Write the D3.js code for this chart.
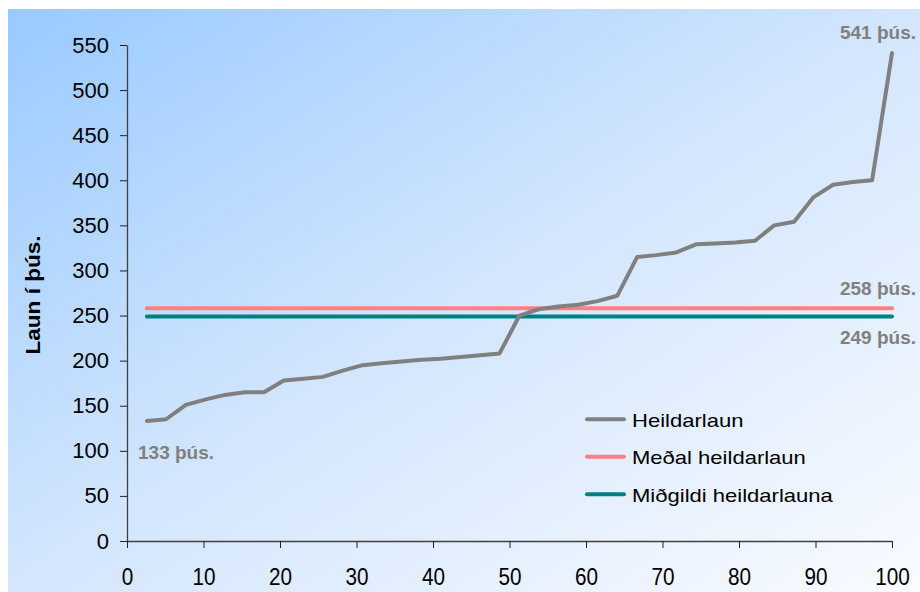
<!DOCTYPE html>
<html><head><meta charset="utf-8">
<script src="https://cdn.jsdelivr.net/npm/d3@7"></script>
<style>body{margin:0;background:#fff}svg{display:block;font-family:"Liberation Sans",Arial,sans-serif}</style>
</head><body><svg id="c" width="920" height="592"></svg>
<script>
const xValues = [2.6,5.1,7.7,10.3,12.8,15.4,17.9,20.5,23.1,25.6,28.2,30.8,33.3,35.9,38.5,41.0,43.6,46.2,48.7,51.3,53.8,56.4,59.0,61.5,64.1,66.7,69.2,71.8,74.4,76.9,79.5,82.1,84.6,87.2,89.7,92.3,94.9,97.4,100.0];
const heildarlaun = [133,135,151,157,162,165,165,178,180,182,189,195,197,199,201,202,204,206,208,250,257,260,262,266,272,315,317,320,329,330,331,333,350,354,381,395,398,400,541];
const medal = 258;
const midgildi = 249;
const yTicks = [0,50,100,150,200,250,300,350,400,450,500,550];
const xTicks = [0,10,20,30,40,50,60,70,80,90,100];
const seriesNames = ["Heildarlaun","Meðal heildarlaun","Miðgildi heildarlauna"];
const seriesColors = ["#808080","#ff8080","#008080"];
const annotationTexts = ["541 þús.","258 þús.","249 þús.","133 þús."];

const svg = d3.select("#c");
const defs = svg.append("defs");
const g = defs.append("linearGradient").attr("id","bg").attr("x1","0").attr("y1","0").attr("x2","1").attr("y2","1");
g.append("stop").attr("offset","0").attr("stop-color","#99caff");
g.append("stop").attr("offset","0.5").attr("stop-color","#d3e6fd");
g.append("stop").attr("offset","1").attr("stop-color","#f9fbff");
svg.append("rect").attr("x",8).attr("y",9).attr("width",912).attr("height",583).attr("fill","url(#bg)");

const x = d3.scaleLinear().domain([0,100]).range([127,892]);
const y = d3.scaleLinear().domain([0,550]).range([541,45]);

// axes
const yAxis = svg.append("g").attr("transform","translate(127,0)")
  .call(d3.axisLeft(y).tickValues(yTicks).tickSize(7).tickPadding(11).tickSizeOuter(0));
const xAxis = svg.append("g").attr("transform","translate(0,541)")
  .call(d3.axisBottom(x).tickValues(xTicks).tickSize(7).tickPadding(13).tickSizeOuter(0));
[yAxis,xAxis].forEach(a=>{
  a.select(".domain").attr("stroke","#404040").attr("stroke-width",1.3);
  a.selectAll(".tick line").attr("stroke","#202020");
  a.selectAll("text").attr("fill","#000").attr("font-family","Liberation Sans, Arial, sans-serif");
});
yAxis.selectAll("text").attr("font-size",22);
xAxis.selectAll("text").attr("font-size",23).attr("y",44).attr("dy",0).attr("transform","scale(0.9,1)");
xAxis.select(".domain").attr("d","M127,0.5H892");

svg.append("text").attr("transform","translate(39.5,295) rotate(-90) scale(1.13,1)")
  .attr("text-anchor","middle").attr("font-size",20).attr("font-weight","bold").text("Laun í þús.");

// reference lines
const x0 = xValues[0], x1 = xValues[xValues.length-1];
svg.append("line").attr("x1",x(x0)).attr("x2",x(x1)).attr("y1",y(medal)).attr("y2",y(medal))
  .attr("stroke",seriesColors[1]).attr("stroke-width",4).attr("stroke-linecap","round");
svg.append("line").attr("x1",x(x0)).attr("x2",x(x1)).attr("y1",y(midgildi)).attr("y2",y(midgildi))
  .attr("stroke",seriesColors[2]).attr("stroke-width",4).attr("stroke-linecap","round");

// main line
const line = d3.line().x((d,i)=>x(xValues[i])).y(d=>y(d));
svg.append("path").datum(heildarlaun).attr("d",line).attr("fill","none")
  .attr("stroke",seriesColors[0]).attr("stroke-width",4).attr("stroke-linejoin","round").attr("stroke-linecap","round");

// annotations
const ann = svg.append("g").attr("font-size",19).attr("font-weight","bold").attr("fill","#808080");
const lastVal = heildarlaun[heildarlaun.length-1], firstVal = heildarlaun[0];
ann.append("text").attr("x",916).attr("y",y(lastVal)-14).attr("text-anchor","end").text(annotationTexts[0]);
ann.append("text").attr("x",916).attr("y",y(medal)-13).attr("text-anchor","end").text(annotationTexts[1]);
ann.append("text").attr("x",916).attr("y",y(midgildi)+28).attr("text-anchor","end").text(annotationTexts[2]);
ann.append("text").attr("x",138).attr("y",y(firstVal)+38).attr("text-anchor","start").text(annotationTexts[3]);

// legend
const leg = svg.append("g");
seriesNames.forEach((n,i)=>{
  const yy = 419.3 + i*37.5;
  leg.append("line").attr("x1",587).attr("x2",624).attr("y1",yy).attr("y2",yy)
    .attr("stroke",seriesColors[i]).attr("stroke-width",4).attr("stroke-linecap","round");
  leg.append("text").attr("transform",`translate(632,${yy+7.5}) scale(1.16,1)`)
    .attr("font-size",19).attr("fill","#000").text(n);
});
</script></body></html>
